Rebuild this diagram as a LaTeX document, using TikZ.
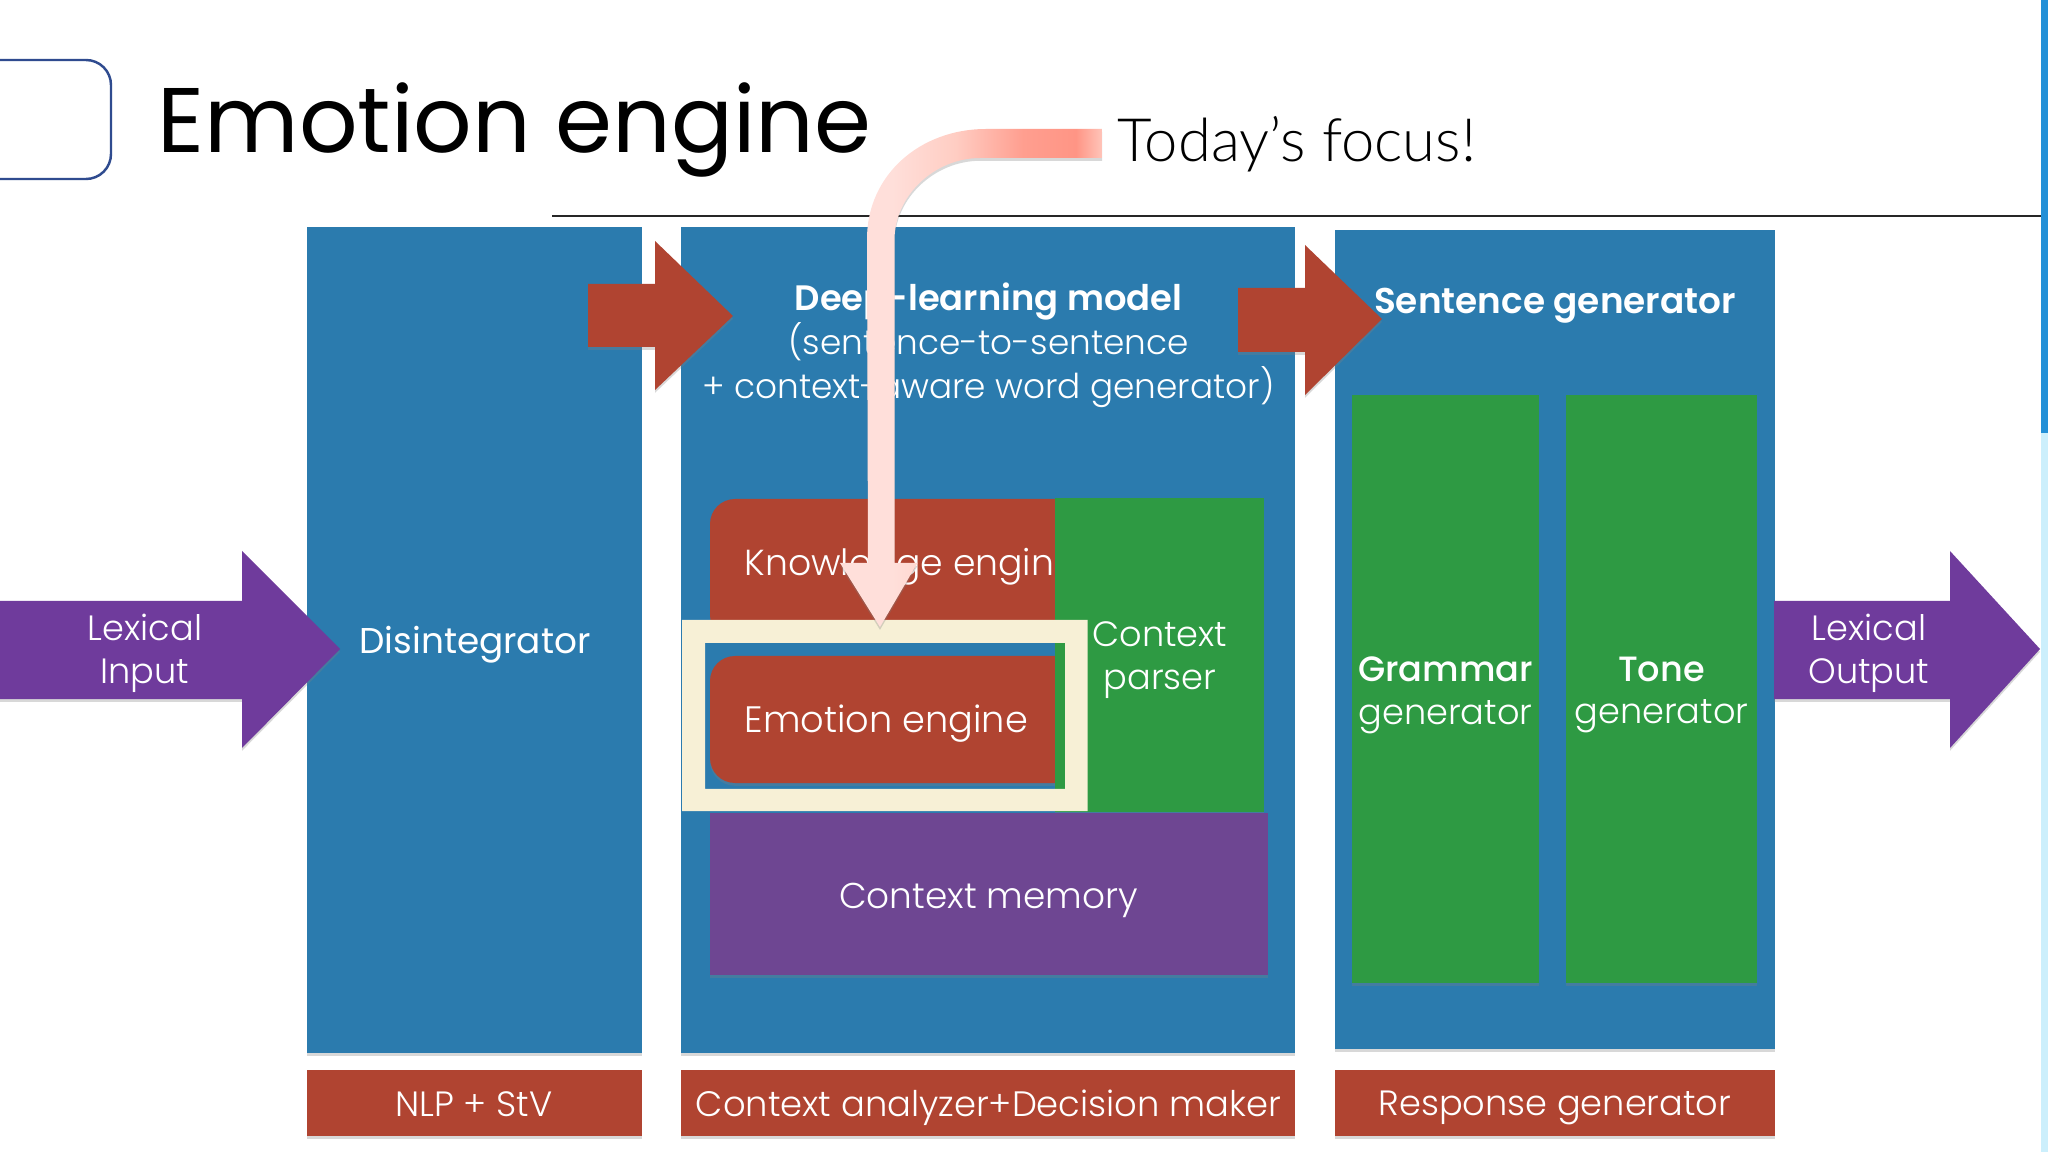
\documentclass[tikz,border=0pt]{standalone}
\usepackage{fontspec}
\setmainfont{Poppins}[UprightFont=* Light,BoldFont=* SemiBold]
\newfontfamily\titlefont{Poppins}
\newfontfamily\mediumfont{Poppins}[UprightFont=* Medium]
\newfontfamily\focusfont{Lato}[UprightFont=* Light]
\usetikzlibrary{shadows}
\definecolor{panelblue}{HTML}{2B7BAE}
\definecolor{brickred}{HTML}{B04431}
\definecolor{leafgreen}{HTML}{2E9A43}
\definecolor{boxpurple}{HTML}{6E4692}
\definecolor{arrowpurple}{HTML}{6F3B9C}
\definecolor{framecream}{HTML}{F7F0D6}
\definecolor{framedark}{HTML}{2F4B8F}
\definecolor{pinkpale}{HTML}{FFDFDA}
\definecolor{pinkmid}{HTML}{FFCDC3}
\definecolor{pinkdeep}{HTML}{FF9E8F}
\definecolor{pinkstrong}{HTML}{FF9585}
\definecolor{pinkend}{HTML}{FFC4B9}
\pgfdeclarehorizontalshading{focusfade}{100bp}{color(0bp)=(pinkpale); color(35bp)=(pinkpale); color(47bp)=(pinkmid); color(60bp)=(pinkdeep); color(70bp)=(pinkstrong); color(75bp)=(pinkend); color(100bp)=(pinkend)}
\tikzset{
  softshadow/.style={drop shadow={shadow xshift=0pt,shadow yshift=-0.8pt,opacity=.3}},
  panel/.style={fill=panelblue,softshadow},
  redbox/.style={fill=brickred,softshadow},
  greenbox/.style={fill=leafgreen,softshadow},
  purplebox/.style={fill=boxpurple,softshadow},
  bigarrow/.style={fill=arrowpurple,softshadow},
  boxtext/.style={text=white,align=center,font=\fontsize{10pt}{12.2pt}\selectfont,inner sep=0pt},
  bigtext/.style={boxtext,font=\fontsize{10.4pt}{12.2pt}\selectfont},
  smalltext/.style={boxtext,font=\fontsize{9.75pt}{12.5pt}\selectfont},
}
\begin{document}
\begin{tikzpicture}[y=-1cm]
    \useasboundingbox (0,0) rectangle (20.48,11.52);
    \fill[white] (0,0) rectangle (20.48,11.52);

    % scroll bar at the edge
    \fill[cyan!70!blue!90] (20.41,0) rectangle (20.48,4.33);
    \fill[cyan!20] (20.41,4.33) rectangle (20.48,11.52);

    % title
    \draw[framedark,line width=0.7pt,rounded corners=0.25cm] (0,0.60)--(1.11,0.60)--(1.11,1.79)--(0,1.79);
    \node[anchor=base west,inner sep=0pt,font=\titlefont\fontsize{26.1pt}{30pt}\selectfont] (title) at (1.57,1.53) {Emotion engine};
    \draw[black!85,line width=0.5pt] (5.52,2.16)--(20.41,2.16);

    % panels
    \path[panel] (3.07,2.27) rectangle (6.42,10.53);
    \path[panel] (6.81,2.27) rectangle (12.95,10.53);
    \path[panel] (13.35,2.30) rectangle (17.745,10.49);

    % bottom labels
    \path[redbox] (3.07,10.70) rectangle (6.42,11.36);
    \path[redbox] (6.81,10.70) rectangle (12.95,11.36);
    \path[redbox] (13.35,10.70) rectangle (17.745,11.36);

    % red arrows
    \path[redbox] (5.88,2.84)--(6.55,2.84)--(6.55,2.41)--(7.33,3.16)--(6.55,3.90)--(6.55,3.47)--(5.88,3.47)--cycle;
    \path[redbox] (12.38,2.88)--(13.05,2.88)--(13.05,2.45)--(13.82,3.19)--(13.05,3.95)--(13.05,3.52)--(12.38,3.52)--cycle;

    % purple arrows
    \path[bigarrow] (0,6.01)--(2.42,6.01)--(2.42,5.51)--(3.40,6.49)--(2.42,7.48)--(2.42,6.99)--(0,6.99)--cycle;
    \path[bigarrow] (17.74,6.01)--(19.50,6.01)--(19.50,5.51)--(20.40,6.49)--(19.50,7.48)--(19.50,6.99)--(17.74,6.99)--cycle;

    % inner boxes
    \path[greenbox] (13.52,3.95) rectangle (15.39,9.83);
    \path[greenbox] (15.66,3.95) rectangle (17.57,9.83);
    \path[redbox,rounded corners=0.25cm] (7.10,4.99) rectangle (11.00,6.40);
    \path[redbox,rounded corners=0.25cm] (7.10,6.56) rectangle (11.00,7.83);
    \path[greenbox] (10.55,4.98) rectangle (12.64,8.12);
    \path[purplebox] (7.10,8.13) rectangle (12.68,9.75);

    % highlight frame
    \fill[framecream,even odd rule] (6.82,6.20) rectangle (10.875,8.11) (7.05,6.43) rectangle (10.65,7.89);

    % texts
    \node[boxtext] (lexin) at (1.45,6.53) {Lexical\\Input};
    \node[boxtext] (lexout) at (18.69,6.53) {Lexical\\Output};
    \node[boxtext,font=\titlefont\fontsize{10.2pt}{12pt}\selectfont] (disint) at (4.75,6.45) {Disintegrator};
    \node[smalltext] (deep) at (9.885,3.45) {{\fontsize{10.05pt}{12.5pt}\selectfont\textbf{Deep-learning model}}\\(sentence-to-sentence\\+ context-aware word generator)};
    \node[boxtext,font=\fontsize{10.2pt}{12.2pt}\selectfont] (sentgen) at (15.55,3.06) {\textbf{Sentence generator}};
    \node[boxtext] (grammar) at (14.455,6.95) {{\mediumfont Grammar}\\generator};
    \node[boxtext] (tone) at (16.615,6.95) {{\mediumfont Tone}\\generator};
    \node[boxtext,font=\fontsize{10.3pt}{12.2pt}\selectfont] (knowl) [anchor=west] at (7.44,5.67) {Knowledge engin};
    \node[bigtext,font=\fontsize{10.45pt}{12.2pt}\selectfont] (emot) [anchor=west] at (7.44,7.24) {Emotion engine};
    \node[boxtext] (parser) at (11.60,6.60) {Context\\parser};
    \node[boxtext,font=\fontsize{10.2pt}{12.2pt}\selectfont] (memory) at (9.885,9.00) {Context memory};
    \node[boxtext] (nlp) at (4.74,11.04) {NLP + StV};
    \node[boxtext,font=\fontsize{10.05pt}{12.2pt}\selectfont] (analyzer) at (9.885,11.08) {Context analyzer+Decision maker};
    \node[boxtext] (response) at (15.55,11.08) {Response generator};

    % focus arrow
    \node[anchor=base west,inner sep=0pt,font=\focusfont\fontsize{17pt}{20pt}\selectfont] (focus) at (11.17,1.62) {Today’s focus!};
    \shade[shading=focusfade,drop shadow={shadow xshift=0pt,shadow yshift=-0.8pt,opacity=.3}] (11.02,1.29)--(9.86,1.29) .. controls (9.20,1.29) and (8.67,1.75) .. (8.67,2.39) -- (8.68,5.63)--(8.40,5.63)--(8.80,6.27)--(9.175,5.63)--(8.945,5.63)--(8.945,2.39) .. controls (8.95,1.95) and (9.35,1.58) .. (9.80,1.58) -- (11.02,1.58)--cycle;
\end{tikzpicture}
\end{document}
